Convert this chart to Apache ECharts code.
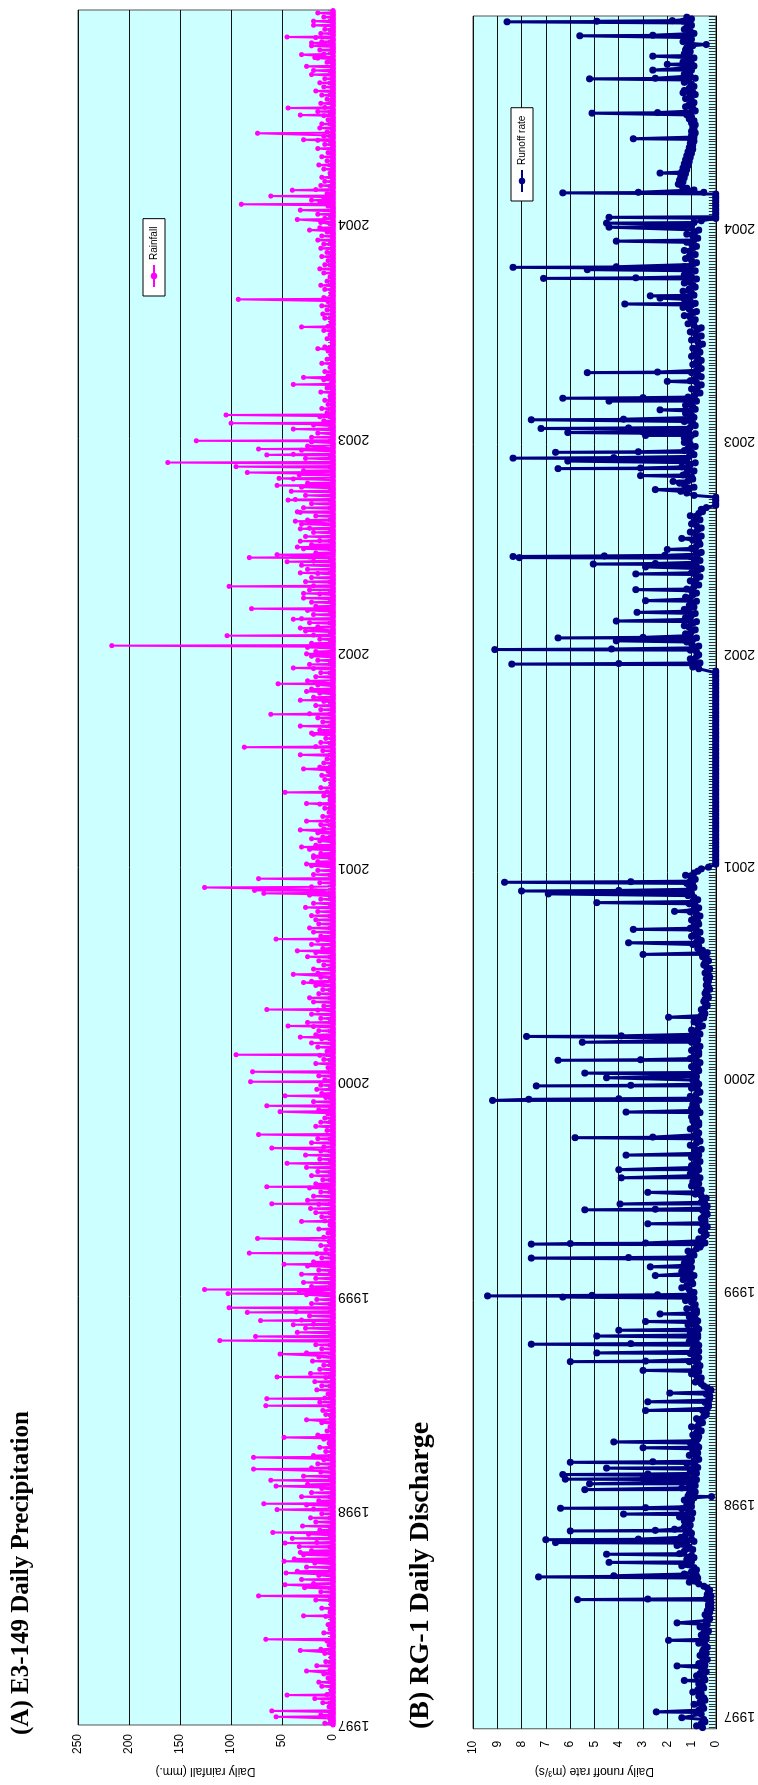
<!DOCTYPE html>
<html>
<head>
<meta charset="utf-8">
<script src="https://cdn.jsdelivr.net/npm/echarts@6.0.0/dist/echarts.min.js"></script>
<style>
html,body{margin:0;padding:0;background:#fff;overflow:hidden;width:758px;height:1785px;}
/* the chart is drawn lying on its side and then turned, like the scanned page */
#demo{position:absolute;left:0;top:0;width:1785px;height:758px;transform-origin:0 0;transform:translate(0,1785px) rotate(-90deg);}
</style>
</head>
<body>
<div id="demo"></div>
<script>
// day 0 = 1 Jan 1997
var yearNames = ['1997','1998','1999','2000','2001','2002','2003','2004'];
var yearStartDay = [0,365,730,1096,1461,1826,2191,2557];

// ---- (A) E3-149 rainfall, big events (day, mm) ----
var rainEventDays = [14,24,51,92,127,146,186,220,239,259,279,294,310,328,367,377,407,417,436,456,490,520,544,556,593,632,655,662,682,689,703,711,735,742,785,804,829,858,888,917,957,983,1006,1045,1055,1072,1096,1113,1142,1172,1191,1219,1265,1279,1319,1339,1417,1422,1427,1442,1467,1481,1496,1510,1525,1540,1570,1589,1629,1653,1666,1690,1702,1722,1746,1761,1774,1801,1825,1839,1856,1869,1884,1902,1928,1940,1963,1982,1989,1994,2007,2017,2038,2051,2066,2087,2112,2124,2134,2144,2151,2164,2174,2188,2208,2218,2232,2284,2296,2345,2382,2404,2429,2547,2565,2581,2591,2598,2605,2615,2686,2701,2712,2743,2755,2812,2826,2841,2846,2866,2876,2903];
var rainEventMm = [56,60,45,26,32,66,29,73,47,46,48,32,47,59,55,68,56,61,78,78,48,26,66,65,55,52,111,76,39,71,84,102,103,126,48,82,74,31,60,65,45,60,73,52,65,47,81,79,95,32,44,65,29,39,35,56,68,77,126,73,26,19,31,21,32,26,26,47,29,32,87,21,32,61,32,26,54,39,26,217,104,32,39,80,29,102,32,45,82,55,35,32,32,37,32,44,55,53,84,95,162,65,73,134,39,100,105,39,29,15,31,10,93,23,35,32,90,21,61,40,15,29,74,32,44,21,26,18,31,21,45,19];

// ---- smaller rain, one reading per week of each year (mm) ----
var rainWeek1997 = [8,3,12,15,4,10,18,6,2,11,14,5,9,3,16,7,2,8,12,4,6,0,9,3,5,1,7,3,11,2,17,22,12,28,19,31,14,35,26,18,38,29,21,33,16,40,24,13,30,17,22,11];
var rainWeek1998 = [19,26,14,31,21,11,25,17,29,12,21,15,9,19,7,13,4,9,15,6,3,11,2,7,10,4,13,8,5,16,11,18,7,22,13,9,20,14,26,11,17,29,21,35,27,19,31,23,36,28,21,16];
var rainWeek1999 = [26,33,21,29,17,31,14,25,19,11,16,7,12,4,9,5,14,3,8,11,17,22,14,25,19,12,23,17,10,21,15,26,19,13,27,12,9,21,15,10,6,17,12,8,5,14,9,19,7,11,16,12];
var rainWeek2000 = [8,14,11,5,17,9,13,6,15,21,11,17,14,19,25,12,21,15,9,19,23,14,10,17,21,12,15,19,9,14,25,17,10,21,15,12,19,23,14,17,21,15,27,19,12,23,17,21,13,25,19,15];
var rainWeek2001 = [21,15,19,12,23,17,13,10,15,9,12,6,10,4,8,13,3,9,6,12,2,8,11,5,13,9,6,15,10,17,12,7,19,13,21,10,15,23,12,17,9,19,13,21,15,25,17,12,19,23,15,21];
var rainWeek2002 = [17,25,21,13,19,27,15,23,31,19,25,17,21,29,13,23,19,27,21,15,25,31,19,23,17,29,21,13,27,19,23,31,25,17,35,29,21,37,27,41,31,25,39,33,29,43,35,27,39,31,25,21];
var rainWeek2003 = [21,15,12,19,9,13,6,11,5,8,3,12,6,2,9,5,8,3,11,6,2,5,8,1,6,3,9,5,2,8,3,6,11,5,9,2,8,12,6,3,9,13,8,5,11,6,12,9,15,11,6,13];
var rainWeek2004 = [12,8,15,11,5,13,9,6,17,12,8,11,3,9,14,6,11,5,12,8,15,9,6,13,11,5,9,15,8,12,6,11,17,9,13,8,12,19,11,6,15,9,13,21,11,17,12,8,19,13,9,15];

// ---- (B) RG-1 runoff: base flow, read twice a week (m3/s) ----
var flowBeforeDays = [-20,-17,-13,-10,-6];
var flowBeforeVals = [0.55,0.8,0.6,0.45,0.5];
// reading on day 7w+3 of each year
var flowWeek1997 = [0.6,0.7,0.55,0.65,0.5,0.6,0.75,0.55,0.6,0.5,0.65,0.5,0.45,0.55,0.5,0.4,0.5,0.45,0.55,0.4,0.5,0.45,0.35,0.4,0.3,0.25,0.2,0.3,0.25,0.2,0.3,0.35,0.7,0.9,0.8,1.0,0.9,1.1,1.2,1.0,1.3,1.1,1.2,1.0,1.25,1.1,1.3,1.15,1.0,1.2,1.1,1.0];
var flowWeek1998 = [1.0,0.9,1.1,0.95,0.85,1.0,0.9,0.8,0.95,0.85,0.9,0.8,0.75,0.85,0.8,0.9,0.7,0.8,0.75,0.7,0.65,0.5,0.4,0.35,0.3,0.3,0.25,0.3,0.35,0.6,0.75,0.8,0.7,0.85,0.75,0.9,0.8,0.7,0.85,0.8,0.9,0.75,0.85,0.8,0.9,0.85,0.95,0.8,0.9,1.0,0.9,1.05];
var flowWeek1999 = [1.1,1.2,1.0,1.15,1.05,1.2,1.1,1.0,1.1,0.95,0.8,0.6,0.55,0.5,0.45,0.5,0.55,0.45,0.5,0.4,0.5,0.45,0.55,0.6,0.75,0.8,0.7,0.85,0.8,0.9,0.75,0.85,0.8,0.7,0.85,0.9,0.8,0.75,0.85,0.8,0.9,0.7,0.8,0.85,0.75,0.8,0.9,0.85,0.8,0.75,0.85,0.8];
var flowWeek2000 = [0.8,0.9,0.75,0.85,0.8,0.9,0.7,0.85,0.8,0.75,0.9,0.8,0.7,0.75,0.65,0.6,0.5,0.45,0.4,0.45,0.35,0.4,0.3,0.35,0.4,0.3,0.35,0.4,0.45,0.4,0.5,0.55,0.7,0.8,0.75,0.85,0.8,0.9,0.75,0.85,0.8,0.9,0.85,0.95,0.9,1.0,1.1,0.95,1.05,1.0,0.9,0.6];
var flowWeek2001 = [0,0,0,0,0,0,0,0,0,0,0,0,0,0,0,0,0,0,0,0,0,0,0,0,0,0,0,0,0,0,0,0,0,0,0,0,0,0,0,0,0,0,0,0,0,0,0,0,0.7,0.85,0.9,0.8];
var flowWeek2002 = [0.8,0.9,1.0,0.95,1.05,1.0,1.1,0.95,1.05,1.0,1.1,0.9,1.0,1.05,0.95,1.0,0.9,0.85,0.8,0.85,0.75,0.8,0.9,0.8,0.75,0.85,0.8,0.7,0.8,0.85,0.75,0.8,0.9,0.8,0.7,0.6,0,0,0,1.2,1.1,1.3,1.15,1.0,1.2,1.1,1.05,1.2,1.1,1.0,1.15,1.05];
var flowWeek2003 = [1.1,1.0,1.15,1.05,0.95,1.1,1.0,1.05,0.95,1.0,0.9,0.85,0.8,0.75,0.8,0.85,0.75,0.8,0.7,0.8,0.75,0.85,0.8,0.7,0.75,0.8,0.85,0.75,0.9,1.0,1.05,0.95,1.1,1.0,1.05,1.15,1.0,1.1,0.95,1.05,1.0,1.1,1.05,0.95,1.0,1.1,1.05,0.95,1.0,0.9,0.95,0.85];
var flowWeek2004 = [1.0,0.9,0,0,0,0,0,0,0,0.9,1.4,1.35,1.3,1.25,1.2,1.15,1.1,1.05,1.0,0.95,0.95,0.9,0.9,0.85,0.9,0.85,0.9,1.0,1.05,0.95,1.1,1.0,1.05,0.95,1.1,1.0,1.15,1.05,1.1,1.2,1.0,1.15,1.1,1.05,1.2,1.1,1.0,1.15,1.05,1.2,1.1,1.0];
// reading on day 7w+6 of each year
var flowMid1997 = [0.8,0.5,0.9,0.45,0.7,0.95,0.5,0.7,0.45,0.8,0.4,0.6,0.7,0.35,0.65,0.55,0.35,0.7,0.4,0.6,0.3,0.65,0.4,0.25,0.45,0.35,0.3,0.2,0.4,0.35,0.25,0.5,1.1,0.75,1.3,0.8,1.4,1.0,0.9,1.5,0.95,1.6,0.9,1.45,1.0,1.7,1.05,1.3,1.5,0.95,1.4,1.2];
var flowMid1998 = [1.3,1.15,0.85,1.4,1.1,0.8,1.25,1.05,0.75,1.2,0.7,1.1,0.95,0.7,1.05,0.75,0.95,0.6,1.0,0.55,0.8,0.4,0.55,0.3,0.45,0.25,0.4,0.2,0.5,0.85,0.6,1.0,0.9,0.65,1.1,0.7,1.05,0.95,0.7,1.1,0.75,1.05,0.7,1.15,0.75,1.1,0.8,1.2,0.85,1.25,1.15,0.9];
var flowMid1999 = [1.4,0.95,1.35,0.9,1.4,1.0,1.3,1.25,0.9,1.15,0.65,0.45,0.7,0.4,0.6,0.35,0.45,0.6,0.35,0.55,0.35,0.6,0.4,0.85,0.6,1.0,0.95,0.65,1.05,0.7,1.0,0.65,1.0,0.9,0.6,1.05,0.65,0.95,0.7,1.05,0.7,0.95,1.0,0.65,1.0,0.95,0.7,1.05,0.65,1.0,0.7,0.95];
var flowMid2000 = [1.05,0.7,1.0,0.65,1.05,0.7,1.0,0.65,1.0,0.9,0.65,1.0,0.55,0.9,0.5,0.45,0.6,0.35,0.5,0.3,0.45,0.25,0.4,0.3,0.25,0.45,0.25,0.5,0.3,0.55,0.35,0.75,0.95,0.6,1.0,0.65,1.05,0.7,1.0,0.65,1.05,0.7,1.1,0.75,1.15,1.25,0.9,1.2,0.85,1.25,0.75,0.3];
var flowMid2001 = [0,0,0,0,0,0,0,0,0,0,0,0,0,0,0,0,0,0,0,0,0,0,0,0,0,0,0,0,0,0,0,0,0,0,0,0,0,0,0,0,0,0,0,0,0,0,0,0,0.95,0.65,1.05,0.7];
var flowMid2002 = [1.05,0.7,1.2,0.8,1.25,0.85,1.3,0.8,1.25,0.85,1.3,1.1,0.8,1.25,0.8,1.2,0.7,1.05,0.65,1.0,0.6,1.0,0.65,1.05,0.6,1.0,0.65,0.95,0.6,1.05,0.6,1.0,0.65,1.05,0.55,0.4,0,0,0.9,1.45,0.9,1.5,0.95,1.35,0.9,1.4,0.85,1.4,0.9,1.3,0.85,1.3];
var flowMid2003 = [1.3,0.85,1.35,0.85,1.3,0.9,1.25,0.85,1.25,0.8,1.15,0.65,1.0,0.6,1.05,0.6,1.0,0.6,0.95,0.6,1.0,0.65,0.95,0.55,1.0,0.6,1.05,0.6,1.15,0.85,1.3,0.8,1.35,0.85,1.3,0.9,1.35,0.85,1.3,0.8,1.3,0.85,1.3,0.8,1.25,0.85,1.3,0.8,1.2,0.75,1.2,0.7];
var flowMid2004 = [1.2,0.6,0,0,0,0,0,0,0.5,1.2,1.55,1.5,1.45,1.4,1.35,1.3,1.25,1.2,1.15,1.1,1.05,1.05,1.0,1.0,0.95,1.0,1.1,1.2,0.85,1.25,0.9,1.25,0.85,1.3,0.9,1.3,0.85,1.3,1.0,0.9,1.35,0.9,1.3,1.25,0.95,1.35,1.25,0.9,1.3,1.0,1.35,1.2];

// ---- runoff peaks (day, m3/s) ----
var flowPeakDays = [-3,7,61,86,130,160,200,239,241,264,278,298,303,318,347,357,377,389,399,407,415,426,436,461,471,525,540,555,594,609,624,639,653,663,678,691,720,722,757,772,787,811,812,846,870,880,900,925,939,964,994,1038,1058,1060,1083,1097,1105,1127,1158,1168,1201,1309,1329,1352,1383,1398,1413,1418,1433,1808,1833,1848,1853,1882,1897,1917,1936,1963,1975,1980,1991,1993,2005,2024,2108,2122,2132,2144,2157,2162,2172,2201,2206,2213,2228,2245,2260,2265,2294,2309,2407,2427,2437,2441,2471,2486,2490,2535,2559,2566,2576,2618,2652,2711,2755,2790,2814,2829,2839,2853,2873,2888,2912,2913];
var flowPeakVals = [1.4,2.45,1.3,1.6,1.95,1.6,5.7,7.3,4.2,4.4,4.5,6.6,7.0,6.0,3.8,6.4,0.18,5.4,5.2,6.2,6.3,4.5,6.0,3.0,4.2,2.9,2.8,1.9,3.0,6.0,4.9,7.6,4.9,4.0,2.9,2.3,6.3,9.4,2.5,2.7,7.6,7.6,6.0,2.8,5.4,3.95,2.8,3.9,4.0,3.7,5.8,3.7,9.2,7.7,7.4,4.5,5.4,6.5,5.5,7.8,1.95,3.0,3.6,3.4,1.7,4.9,6.9,8.0,8.7,8.4,9.1,4.1,6.5,4.1,3.25,2.9,3.3,3.3,2.9,5.05,8.1,8.35,2.0,1.4,2.5,1.76,3.1,6.5,6.1,8.35,6.6,2.9,6.1,7.2,7.6,2.3,4.4,6.3,2.0,5.3,1.07,3.75,2.3,2.7,7.1,5.3,8.35,4.1,4.4,4.5,4.4,6.3,2.3,3.4,5.1,1.35,5.2,2.6,2.0,2.6,0.4,5.6,8.6,4.9];
// day after the bigger peaks
var flowAfterDays = [201,304,319,358,408,416,437,610,640,723,724,788,813,871,995,1061,1084,1128,1169,1419,1434,1809,1834,1854,1981,1994,1995,2145,2163,2173,2207,2214,2229,2266,2310,2472,2491,2619,2756,2815,2889,2914];
var flowAfterVals = [2.8,3.2,2.5,2.9,3.0,2.8,2.6,2.9,3.5,5.1,2.4,3.6,2.9,2.5,2.6,4.0,3.5,3.1,3.9,4.0,3.5,4.0,4.3,3.0,2.5,4.6,2.1,3.1,4.2,3.2,3.0,3.6,3.8,3.0,2.4,3.3,4.1,3.2,2.4,2.5,2.6,1.8];

// 把数据整理成echarts要的 [x, y] 格式
var rainWeeks = [rainWeek1997,rainWeek1998,rainWeek1999,rainWeek2000,rainWeek2001,rainWeek2002,rainWeek2003,rainWeek2004];
var rainDaily = [];
for (var d = 0; d < 2922; d++) rainDaily.push(0);
for (var y = 0; y < rainWeeks.length; y++) {
    for (var w = 0; w < rainWeeks[y].length; w++) {
        var day = yearStartDay[y] + 7 * w + 3;
        if (day < 2922) rainDaily[day] = rainWeeks[y][w];
    }
}
for (var i = 0; i < rainEventDays.length; i++) {
    rainDaily[rainEventDays[i]] = rainEventMm[i];
}
var rainData = rainDaily.map(function (v, k) { return [k, v]; });

var flowWeeks = [flowWeek1997,flowWeek1998,flowWeek1999,flowWeek2000,flowWeek2001,flowWeek2002,flowWeek2003,flowWeek2004];
var flowMids = [flowMid1997,flowMid1998,flowMid1999,flowMid2000,flowMid2001,flowMid2002,flowMid2003,flowMid2004];
var flowData = [];
for (var i = 0; i < flowBeforeDays.length; i++) flowData.push([flowBeforeDays[i], flowBeforeVals[i]]);
for (var y = 0; y < flowWeeks.length; y++) {
    for (var w = 0; w < flowWeeks[y].length; w++) {
        flowData.push([yearStartDay[y] + 7 * w + 3, flowWeeks[y][w]]);
        flowData.push([yearStartDay[y] + 7 * w + 6, flowMids[y][w]]);
    }
}
for (var i = 0; i < flowPeakDays.length; i++) flowData.push([flowPeakDays[i], flowPeakVals[i]]);
for (var i = 0; i < flowAfterDays.length; i++) flowData.push([flowAfterDays[i], flowAfterVals[i]]);
flowData.sort(function (a, b) { return a[0] - b[0]; });

// small tick marks along the date axis
var ticksA = [], ticksB = [];
for (var t = 0; t <= 2920; t += 5) ticksA.push(t);
for (var t = -20; t <= 2920; t += 5) ticksB.push(t);

function yearLabel(v) {
    var k = yearStartDay.indexOf(Math.round(v));
    return k >= 0 ? yearNames[k] : '';
}

var chartDom = document.getElementById('demo');
var myChart = echarts.init(chartDom);
var option = {
    animation: false,
    title: [
        {text: '(A) E3-149 Daily Precipitation', left: 50, top: 9, padding: 0,
         textStyle: {fontFamily: 'Liberation Serif', fontWeight: 'bold', fontSize: 25, color: '#000'}},
        {text: '(B) RG-1 Daily Discharge', left: 56, top: 407, padding: 0,
         textStyle: {fontFamily: 'Liberation Serif', fontWeight: 'bold', fontSize: 28, color: '#000'}}
    ],
    legend: [
        {
            data: ['Rainfall'], left: 1489, top: 143, orient: 'horizontal',
            backgroundColor: '#fff', borderColor: '#000', borderWidth: 1, padding: [6, 8],
            itemWidth: 22, itemHeight: 8, itemGap: 4,
            textStyle: {fontFamily: 'Arial', fontSize: 10, color: '#000'}
        },
        {
            data: ['Runoff rate'], left: 1584, top: 511, orient: 'horizontal',
            backgroundColor: '#fff', borderColor: '#000', borderWidth: 1, padding: [6, 8],
            itemWidth: 22, itemHeight: 8, itemGap: 4,
            textStyle: {fontFamily: 'Arial', fontSize: 10, color: '#000'}
        }
    ],
    grid: [
        {left: 59, width: 1716, top: 78, height: 255, show: true, backgroundColor: '#CCFFFF', borderColor: '#555', borderWidth: 1},
        {left: 48, width: 1721, top: 473, height: 244, show: true, backgroundColor: '#CCFFFF', borderColor: '#555', borderWidth: 1}
    ],
    xAxis: [
        {
            gridIndex: 0, type: 'value', min: 0, max: 2922,
            axisLine: {show: true, lineStyle: {color: '#000', width: 1}},
            axisTick: {show: true, inside: true, length: 5, customValues: ticksA, lineStyle: {color: '#777', width: 1}},
            axisLabel: {customValues: yearStartDay, formatter: yearLabel, rotate: 90, margin: 5,
                        fontFamily: 'Arial', fontSize: 14, color: '#000'},
            splitLine: {show: false}
        },
        {
            gridIndex: 1, type: 'value', min: -22, max: 2922,
            axisLine: {show: true, lineStyle: {color: '#000', width: 1}},
            axisTick: {show: true, inside: true, length: 7, customValues: ticksB, lineStyle: {color: '#333', width: 1}},
            axisLabel: {customValues: yearStartDay, formatter: yearLabel, rotate: 90, margin: 8,
                        fontFamily: 'Arial', fontSize: 14, color: '#000'},
            splitLine: {show: false}
        }
    ],
    yAxis: [
        {
            gridIndex: 0, type: 'value', min: 0, max: 250, interval: 50,
            name: 'Daily rainfall (mm.)', nameLocation: 'middle', nameRotate: 90, nameGap: 40,
            nameTextStyle: {fontFamily: 'Arial', fontSize: 12, color: '#000'},
            axisLine: {show: false}, axisTick: {show: false},
            axisLabel: {margin: 9, fontFamily: 'Arial', fontSize: 12, color: '#000'},
            splitLine: {show: true, lineStyle: {color: '#111', width: 1}}
        },
        {
            gridIndex: 1, type: 'value', min: 0, max: 10, interval: 1,
            name: 'Daily runoff rate (m³/s)', nameLocation: 'middle', nameRotate: 90, nameGap: 36,
            nameTextStyle: {fontFamily: 'Arial', fontSize: 12, color: '#000'},
            axisLine: {show: false}, axisTick: {show: false},
            axisLabel: {margin: 12, fontFamily: 'Arial', fontSize: 12, color: '#000'},
            splitLine: {show: true, lineStyle: {color: '#111', width: 1}}
        }
    ],
    series: [
        {
            name: 'Rainfall', type: 'line', xAxisIndex: 0, yAxisIndex: 0,
            data: rainData, showAllSymbol: true, symbol: 'circle', symbolSize: 5,
            itemStyle: {color: '#FF00FF'}, lineStyle: {color: '#FF00FF', width: 2}
        },
        {
            name: 'Runoff rate', type: 'line', xAxisIndex: 1, yAxisIndex: 1,
            data: flowData, showAllSymbol: true, symbol: 'circle', symbolSize: 7,
            itemStyle: {color: '#000080'}, lineStyle: {color: '#000080', width: 3}
        }
    ]
};
option && myChart.setOption(option);
</script>
</body>
</html>
